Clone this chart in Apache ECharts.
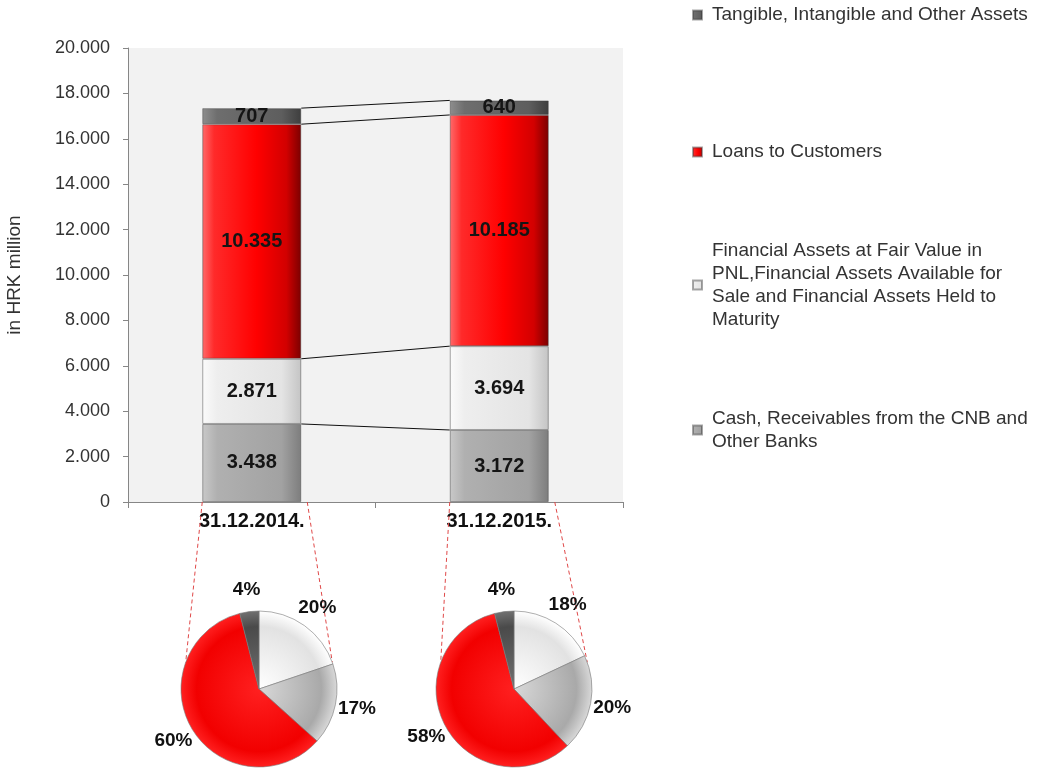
<!DOCTYPE html>
<html>
<head>
<meta charset="utf-8">
<script src="https://cdn.jsdelivr.net/npm/echarts@6/dist/echarts.min.js"></script>
<style>
  html, body { margin: 0; padding: 0; background: #ffffff; }
  #chart { width: 1041px; height: 771px; }
</style>
</head>
<body>
<div id="chart"></div>
<script>
// ---- data -------------------------------------------------------------
const categories = ['31.12.2014.', '31.12.2015.'];

const seriesNames = [
  'Cash, Receivables from the CNB and Other Banks',
  'Financial Assets at Fair Value in PNL,Financial Assets Available for Sale and Financial Assets Held to Maturity',
  'Loans to Customers',
  'Tangible, Intangible and Other Assets'
];
const legendLabels = [
  'Cash, Receivables from the CNB and\nOther Banks',
  'Financial Assets at Fair Value in\nPNL,Financial Assets Available for\nSale and Financial Assets Held to\nMaturity',
  'Loans to Customers',
  'Tangible, Intangible and Other Assets'
];

// in HRK million
const cashValues      = [3438, 3172];
const financialValues = [2871, 3694];
const loanValues      = [10335, 10185];
const otherValues     = [707, 640];

// structure shares (%) shown in the pies, same order as seriesNames
const pie2014 = [20, 17, 60, 4];
const pie2015 = [18, 20, 58, 4];

const yMin = 0, yMax = 20000, yStep = 2000;

// ---- styling helpers --------------------------------------------------
const FONT = '"Liberation Sans", Arial, sans-serif';

function hGrad(stops) {
  return new echarts.graphic.LinearGradient(0, 0, 1, 0,
    stops.map(c => ({ offset: c[0], color: c[1] })));
}
const barColors = [
  hGrad([[0, '#c9c9c9'], [0.15, '#b0b0b0'], [0.8, '#a2a2a2'], [1, '#7d7d7d']]),
  hGrad([[0, '#fbfbfb'], [0.15, '#eeeeee'], [0.8, '#e4e4e4'], [1, '#c4c4c4']]),
  hGrad([[0, '#ff6b6b'], [0.12, '#ff2a2a'], [0.55, '#ff0000'], [0.85, '#d20000'], [1, '#7a0000']]),
  hGrad([[0, '#8e8e8e'], [0.15, '#6e6e6e'], [0.8, '#5e5e5e'], [1, '#3e3e3e']])
];

function thousands(v) {
  return String(v).replace(/\B(?=(\d{3})+(?!\d))/g, '.');
}

// pie layout (pixels)
const pieRadius = 78;
const pieCenters = [[259, 689], [514, 689]];
const pieLabelDist = 100;

function pieFill(cx, cy, inner, outer) {
  return new echarts.graphic.RadialGradient(cx, cy, pieRadius, [
    { offset: 0, color: inner },
    { offset: 0.8, color: outer },
    { offset: 1, color: inner }
  ], true);
}
function pieColors(center) {
  const [cx, cy] = center;
  return [
    pieFill(cx, cy, '#ffffff', '#e2e2e2'),
    pieFill(cx, cy, '#d8d8d8', '#a9a9a9'),
    pieFill(cx, cy, '#ff2020', '#f20000'),
    pieFill(cx, cy, '#707070', '#4a4a4a')
  ];
}

// ---- chart -------------------------------------------------------------
const chart = echarts.init(document.getElementById('chart'), null, { renderer: 'canvas' });

const stacks = [cashValues, financialValues, loanValues, otherValues];

const barSeries = stacks.map((vals, i) => ({
  name: seriesNames[i],
  type: 'bar',
  stack: 'total',
  barWidth: '40%',
  data: vals,
  itemStyle: { color: barColors[i], borderColor: 'rgba(60,60,60,0.45)', borderWidth: 1 },
  label: {
    show: true,
    position: 'inside',
    formatter: p => thousands(p.value),
    color: '#151515',
    fontFamily: FONT,
    fontWeight: 'bold',
    fontSize: 20
  },
  emphasis: { disabled: true }
}));

// cumulative boundaries joined by series lines between the two columns
const boundaries = [];
let run0 = 0, run1 = 0;
stacks.forEach(vals => {
  run0 += vals[0];
  run1 += vals[1];
  boundaries.push([0, run0, run1]);
});

const connectorSeries = {
  type: 'custom',
  name: 'series lines',
  silent: true,
  z: 3,
  encode: { x: 0, y: 1 },
  data: boundaries,
  renderItem(params, api) {
    const a = api.coord([0, api.value(1)]);
    const b = api.coord([1, api.value(2)]);
    const half = api.size([1, 0])[0] * 0.4 / 2;
    return {
      type: 'line',
      shape: { x1: a[0] + half, y1: a[1], x2: b[0] - half, y2: b[1] },
      style: { stroke: '#111', lineWidth: 1 }
    };
  }
};

// labels centred on each slice's bisector, just outside the rim
function pieLabelLayout(shares, center) {
  const total = shares.reduce((s, v) => s + v, 0);
  const mids = [];
  let acc = 0;
  shares.forEach(v => { mids.push((acc + v / 2) / total * 2 * Math.PI); acc += v; });
  return params => {
    const t = mids[params.dataIndex];
    return {
      x: center[0] + pieLabelDist * Math.sin(t),
      y: center[1] - pieLabelDist * Math.cos(t),
      align: 'center',
      verticalAlign: 'middle'
    };
  };
}

function pieSeries(shares, center) {
  const colors = pieColors(center);
  return {
    type: 'pie',
    center: center,
    radius: pieRadius,
    startAngle: 90,
    clockwise: true,
    avoidLabelOverlap: false,
    silent: true,
    data: shares.map((v, i) => ({
      name: seriesNames[i],
      value: v,
      itemStyle: { color: colors[i] }
    })),
    itemStyle: { borderColor: 'rgba(120,120,120,0.6)', borderWidth: 1 },
    label: {
      show: true,
      position: 'outside',
      formatter: p => p.value + '%',
      color: '#111',
      fontFamily: FONT,
      fontWeight: 'bold',
      fontSize: 19
    },
    labelLine: { show: false, length: 8, length2: 0 },
    labelLayout: pieLabelLayout(shares, center)
  };
}

// one legend block per series, placed down the right-hand side
const legendLines = [2, 4, 1, 1];
const legendCenters = [430, 285, 152, 15];
const LH = 23;
const legends = seriesNames.map((name, i) => {
  const n = legendLines[i];
  return {
    data: [name],
    left: 692,
    top: legendCenters[i] - (2 * n - 1) * LH / 2,
    orient: 'vertical',
    padding: 0,
    icon: 'rect',
    itemWidth: 9,
    itemHeight: 9,
    selectedMode: false,
    formatter: () => legendLabels[i],
    textStyle: {
      color: '#333',
      fontFamily: FONT,
      fontSize: 19,
      lineHeight: LH,
      padding: [(n - 1) * LH, 0, 0, 5]
    }
  };
});

chart.setOption({
  backgroundColor: '#ffffff',
  animation: false,
  textStyle: { fontFamily: FONT },
  legend: legends,
  grid: {
    left: 128, right: 418, top: 48, bottom: 269,
    show: true, backgroundColor: '#f2f2f2', borderWidth: 0,
    containLabel: false
  },
  xAxis: {
    type: 'category',
    data: categories,
    axisLine: { lineStyle: { color: '#868686', width: 1 } },
    axisTick: { show: true, length: 6, lineStyle: { color: '#868686' } },
    axisLabel: { color: '#111', fontFamily: FONT, fontWeight: 'bold', fontSize: 20, margin: 9 }
  },
  yAxis: {
    type: 'value',
    min: yMin, max: yMax, interval: yStep,
    name: 'in HRK million',
    nameLocation: 'middle',
    nameRotate: 90,
    nameGap: 104,
    nameTextStyle: { color: '#333', fontFamily: FONT, fontSize: 19 },
    axisLine: { show: true, lineStyle: { color: '#868686', width: 1 } },
    axisTick: { show: true, length: 5, lineStyle: { color: '#868686' } },
    splitLine: { show: false },
    axisLabel: { color: '#333', fontFamily: FONT, fontSize: 18, margin: 18, formatter: v => thousands(v) }
  },
  series: [
    ...barSeries,
    connectorSeries,
    pieSeries(pie2014, pieCenters[0]),
    pieSeries(pie2015, pieCenters[1])
  ]
});

// dashed leader lines from each column's foot down to its pie
function drawLeaders() {
  const base = chart.convertToPixel({ yAxisIndex: 0 }, 0);
  const x0 = chart.convertToPixel({ xAxisIndex: 0 }, 0);
  const x1 = chart.convertToPixel({ xAxisIndex: 0 }, 1);
  const band = x1 - x0;
  const half = band * 0.4 / 2;
  const ang = 20 * Math.PI / 180;
  const elements = [];
  [x0, x1].forEach((cx, i) => {
    const [pcx, pcy] = pieCenters[i];
    const dx = pieRadius * Math.cos(ang), dy = pieRadius * Math.sin(ang);
    elements.push(
      { type: 'line', silent: true, z: 1,
        shape: { x1: cx - half, y1: base, x2: pcx - dx, y2: pcy - dy },
        style: { stroke: '#e04848', lineWidth: 1, lineDash: [4, 3] } },
      { type: 'line', silent: true, z: 1,
        shape: { x1: cx + half + 6, y1: base, x2: pcx + dx, y2: pcy - dy },
        style: { stroke: '#e04848', lineWidth: 1, lineDash: [4, 3] } }
    );
  });
  chart.setOption({ graphic: elements });
}
drawLeaders();
</script>
</body>
</html>
